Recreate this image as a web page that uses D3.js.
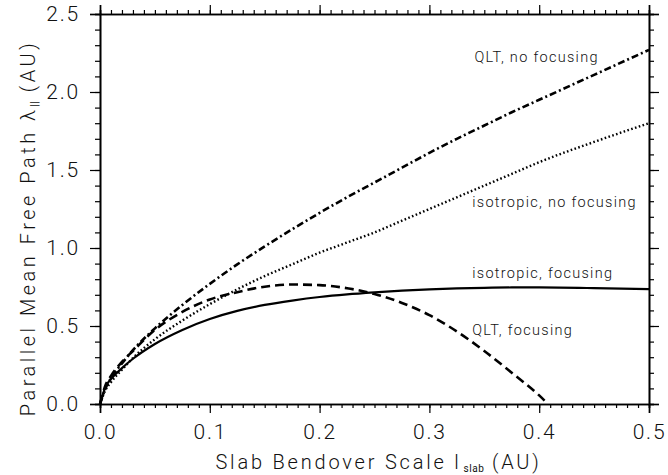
<!DOCTYPE html>
<html>
<head>
<meta charset="utf-8">
<script src="https://cdn.jsdelivr.net/npm/d3@7"></script>
<style>
  body { margin: 0; background: #fff; }
  svg text { font-family: Roboto, "DejaVu Sans", sans-serif; font-weight: 300; fill: #111; }
</style>
</head>
<body>
<svg id="chart"></svg>
<script>
// bendover scale l_slab (AU)
const lslab = [0, 0.005, 0.01, 0.02, 0.03, 0.05, 0.075, 0.1, 0.125, 0.15, 0.175, 0.2, 0.225, 0.25, 0.275, 0.3, 0.325, 0.35, 0.375, 0.4, 0.45, 0.5];

// parallel mean free path (AU)
const qltNoFocus = [0, 0.10, 0.165, 0.26, 0.345, 0.485, 0.635, 0.77, 0.895, 1.01, 1.12, 1.225, 1.325, 1.42, 1.515, 1.61, 1.70, 1.785, 1.87, 1.95, 2.11, 2.27];
const isoNoFocus = [0, 0.09, 0.14, 0.22, 0.295, 0.415, 0.535, 0.64, 0.735, 0.82, 0.895, 0.97, 1.035, 1.10, 1.175, 1.25, 1.325, 1.40, 1.475, 1.55, 1.68, 1.80];
const isoFocus   = [0, 0.11, 0.16, 0.23, 0.29, 0.385, 0.475, 0.545, 0.597, 0.635, 0.663, 0.686, 0.703, 0.716, 0.727, 0.735, 0.741, 0.745, 0.747, 0.747, 0.743, 0.736];
// QLT with focusing stops at the x axis
const qltFocusX  = [0, 0.005, 0.01, 0.02, 0.03, 0.05, 0.075, 0.1, 0.125, 0.15, 0.175, 0.2, 0.225, 0.25, 0.275, 0.3, 0.325, 0.35, 0.375, 0.4, 0.408];
const qltFocus   = [0, 0.12, 0.18, 0.27, 0.34, 0.475, 0.59, 0.67, 0.717, 0.752, 0.766, 0.762, 0.742, 0.705, 0.648, 0.57, 0.465, 0.34, 0.2, 0.055, 0.0];

const xTicks = [0, 0.1, 0.2, 0.3, 0.4, 0.5];
const yTicks = [0, 0.5, 1.0, 1.5, 2.0, 2.5];

const labels = [
  {text: "QLT, no focusing", x: 0.341, y: 2.19},
  {text: "isotropic, no focusing", x: 0.339, y: 1.26},
  {text: "isotropic, focusing", x: 0.339, y: 0.81},
  {text: "QLT, focusing", x: 0.339, y: 0.44}
];

const width = 668, height = 475;
const margin = {top: 14, right: 19, bottom: 71, left: 100};

const svg = d3.select("#chart").attr("width", width).attr("height", height);

const x = d3.scaleLinear().domain([0, 0.5]).range([margin.left, width - margin.right]);
const y = d3.scaleLinear().domain([0, 2.5]).range([height - margin.bottom, margin.top]);

const xMinor = d3.range(0, 51).map(i => i / 100);
const yMinor = d3.range(0, 26).map(i => i / 10);

// axes: all four sides, ticks pointing outward
const gBottom = svg.append("g").attr("transform", `translate(0,${y(0)})`);
gBottom.call(d3.axisBottom(x).tickValues(xMinor).tickSize(4).tickFormat(""));
gBottom.append("g").call(d3.axisBottom(x).tickValues(xTicks).tickSize(9).tickPadding(11).tickFormat(d3.format(".1f")));

const gTop = svg.append("g").attr("transform", `translate(0,${y(2.5)})`);
gTop.call(d3.axisTop(x).tickValues(xMinor).tickSize(4).tickFormat(""));
gTop.append("g").call(d3.axisTop(x).tickValues(xTicks).tickSize(9).tickFormat(""));

const gLeft = svg.append("g").attr("transform", `translate(${x(0)},0)`);
gLeft.call(d3.axisLeft(y).tickValues(yMinor).tickSize(5).tickFormat(""));
gLeft.append("g").call(d3.axisLeft(y).tickValues(yTicks).tickSize(10).tickPadding(10).tickFormat(d3.format(".1f")));

const gRight = svg.append("g").attr("transform", `translate(${x(0.5)},0)`);
gRight.call(d3.axisRight(y).tickValues(yMinor).tickSize(5).tickFormat(""));
gRight.append("g").call(d3.axisRight(y).tickValues(yTicks).tickSize(10).tickFormat(""));

svg.selectAll(".domain").attr("stroke", "#000").attr("stroke-width", 1.6);
svg.selectAll(".tick line").attr("stroke", "#000").attr("stroke-width", 1.2);
svg.selectAll(".tick text")
  .attr("font-size", 21).attr("font-family", "Roboto, sans-serif").attr("font-weight", 300)
  .attr("fill", "#111").attr("letter-spacing", 1.8);

// curves
const line = d3.line().x(d => x(d[0])).y(d => y(d[1])).curve(d3.curveMonotoneX);
const series = [
  {xs: lslab, ys: qltNoFocus, dash: "7,3,2,3", w: 2.6},
  {xs: lslab, ys: isoNoFocus, dash: "1.6,2.4", w: 2.4},
  {xs: lslab, ys: isoFocus, dash: null, w: 2.2},
  {xs: qltFocusX, ys: qltFocus, dash: "9,5", w: 2.6}
];
svg.append("g").selectAll("path")
  .data(series)
  .join("path")
    .attr("d", s => line(s.xs.map((v, i) => [v, s.ys[i]])))
    .attr("fill", "none")
    .attr("stroke", "#000")
    .attr("stroke-width", s => s.w)
    .attr("stroke-dasharray", s => s.dash);

// curve annotations
svg.append("g").selectAll("text")
  .data(labels)
  .join("text")
    .attr("x", d => x(d.x))
    .attr("y", d => y(d.y))
    .attr("font-size", 14.5)
    .attr("letter-spacing", 1.3)
    .text(d => d.text);

// axis titles
const xt = svg.append("text")
  .attr("x", (x(0) + x(0.5)) / 2 + 4).attr("y", 469)
  .attr("text-anchor", "middle").attr("font-size", 20).attr("letter-spacing", 2.8);
xt.append("tspan").text("Slab Bendover Scale l");
xt.append("tspan").attr("font-size", 10).attr("dy", 3).attr("dx", 2).attr("letter-spacing", 0.5).attr("font-weight", 400).text("slab");
xt.append("tspan").attr("dy", -3).text(" (AU)");

const yt = svg.append("text")
  .attr("transform", `translate(35,228) rotate(-90)`)
  .attr("text-anchor", "middle").attr("font-size", 20).attr("letter-spacing", 3.5);
yt.append("tspan").text("Parallel Mean Free Path λ");
yt.append("tspan").attr("font-size", 10).attr("dy", 3).attr("letter-spacing", 0.5).attr("font-weight", 400).text("||");
yt.append("tspan").attr("dy", -3).text(" (AU)");
</script>
</body>
</html>
